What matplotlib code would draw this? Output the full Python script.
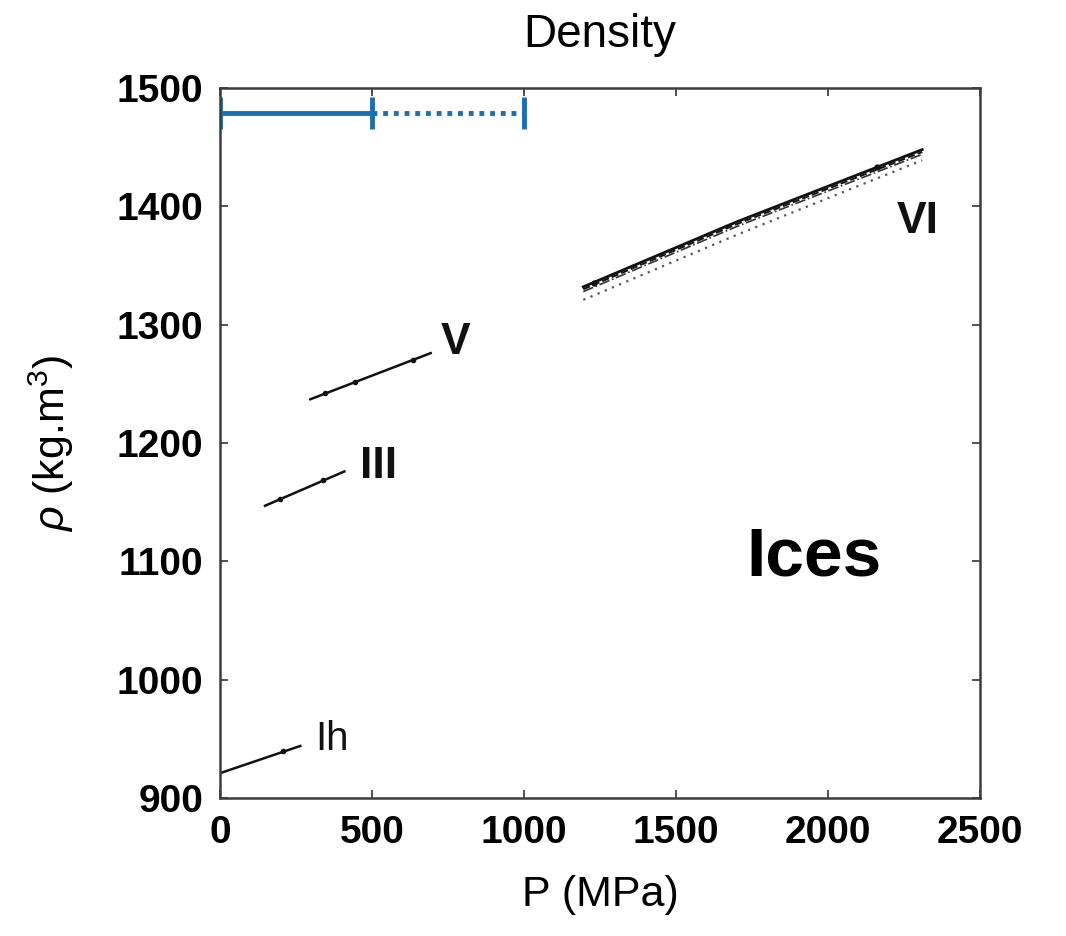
import matplotlib
matplotlib.use('Agg')
import matplotlib.pyplot as plt

plt.rcParams['font.family'] = ['Liberation Sans', 'DejaVu Sans']
plt.rcParams['mathtext.fontset'] = 'custom'
plt.rcParams['mathtext.rm'] = 'Liberation Sans'
plt.rcParams['mathtext.it'] = 'Liberation Sans:italic'

# data (P in MPa, rho in kg/m3)
ih_p = [0, 264]
ih_rho = [921, 944]
ih_mark_p = [208]
ih_mark_rho = [939.5]

iii_p = [148, 409]
iii_rho = [1147, 1176]
iii_mark_p = [198, 340]
iii_mark_rho = [1152.5, 1168.5]

v_p = [297, 693]
v_rho = [1237, 1276]
v_mark_p = [346, 445, 634]
v_mark_rho = [1242, 1252, 1270]

vi_p = [1195, 1700, 2310]
vi_solid = [1332, 1387, 1448]
vi_dash = [1330, 1385, 1446]
vi_dashdot = [1328, 1383, 1444]
vi_dot = [1321, 1376, 1439]
vi_mark_p = [1230, 2160]
vi_mark_rho = [1335, 1433]

bar_solid_p = [0, 500]
bar_dot_p = [500, 1000]
bar_rho = 1479
bar_caps_p = [0, 500, 1000]

labels = ['Ih', 'III', 'V', 'VI']
label_p = [370, 523, 776, 2294]
label_rho = [950, 1180, 1285, 1387]

fig = plt.figure(figsize=(10.66, 9.36), dpi=100)
ax = fig.add_axes([0.2064, 0.1474, 0.7129, 0.7585])

blue = '#1a6fb3'
ax.plot(bar_solid_p, [bar_rho] * 2, color=blue, lw=3.5, solid_capstyle='butt')
ax.plot(bar_dot_p, [bar_rho] * 2, color=blue, lw=3.5, ls=(0, (1, 1.2)))
ax.plot(bar_caps_p, [bar_rho] * 3, ls='none', marker='|', ms=23, mew=3.5, color=blue)

k = '#111111'
ax.plot(ih_p, ih_rho, color=k, lw=1.8)
ax.plot(ih_mark_p, ih_mark_rho, 'o', color=k, ms=3)
ax.plot(iii_p, iii_rho, color=k, lw=1.8)
ax.plot(iii_mark_p, iii_mark_rho, 'o', color=k, ms=3)
ax.plot(v_p, v_rho, color=k, lw=1.8)
ax.plot(v_mark_p, v_mark_rho, 'o', color=k, ms=3)
ax.plot(vi_p, vi_solid, color=k, lw=2.0)
ax.plot(vi_p, vi_dash, color=k, lw=1.4, ls='--')
ax.plot(vi_p, vi_dashdot, color='#333333', lw=1.2, ls='-.')
ax.plot(vi_p, vi_dot, color='#555555', lw=1.6, ls=(0, (1, 2.5)))
ax.plot(vi_mark_p, vi_mark_rho, 'o', color=k, ms=3.5)

for lab, p, r in zip(labels, label_p, label_rho):
    w = 'normal' if lab == 'Ih' else 'bold'
    ax.text(p, r, lab, ha='center', va='center', fontsize=32 if lab != 'Ih' else 29,
            fontweight=w, color='#111111')
ax.text(1954, 1103, 'Ices', ha='center', va='center', fontsize=50, fontweight='bold')

ax.set_xlim(0, 2500)
ax.set_ylim(900, 1500)
ax.set_xticks([0, 500, 1000, 1500, 2000, 2500])
ax.set_yticks([900, 1000, 1100, 1200, 1300, 1400, 1500])
ax.tick_params(direction='in', length=6, width=1.3, color='#444444', top=True, right=True,
               labelsize=28, pad=12)
for t in ax.get_xticklabels() + ax.get_yticklabels():
    t.set_fontweight('bold')
for s in ax.spines.values():
    s.set_color('#3c3c3c')
    s.set_linewidth(1.8)

ax.set_xlabel('P (MPa)', fontsize=31)
ax.xaxis.set_label_coords(0.5, -0.108)
ax.set_ylabel(r'$\rho$ (kg.m$^3$)', fontsize=31)
ax.yaxis.set_label_coords(-0.19, 0.5)
ax.text(0.5, 1.058, 'Density', transform=ax.transAxes, ha='center', va='baseline', fontsize=33)

fig.savefig('out.png', dpi=100, facecolor='white')
